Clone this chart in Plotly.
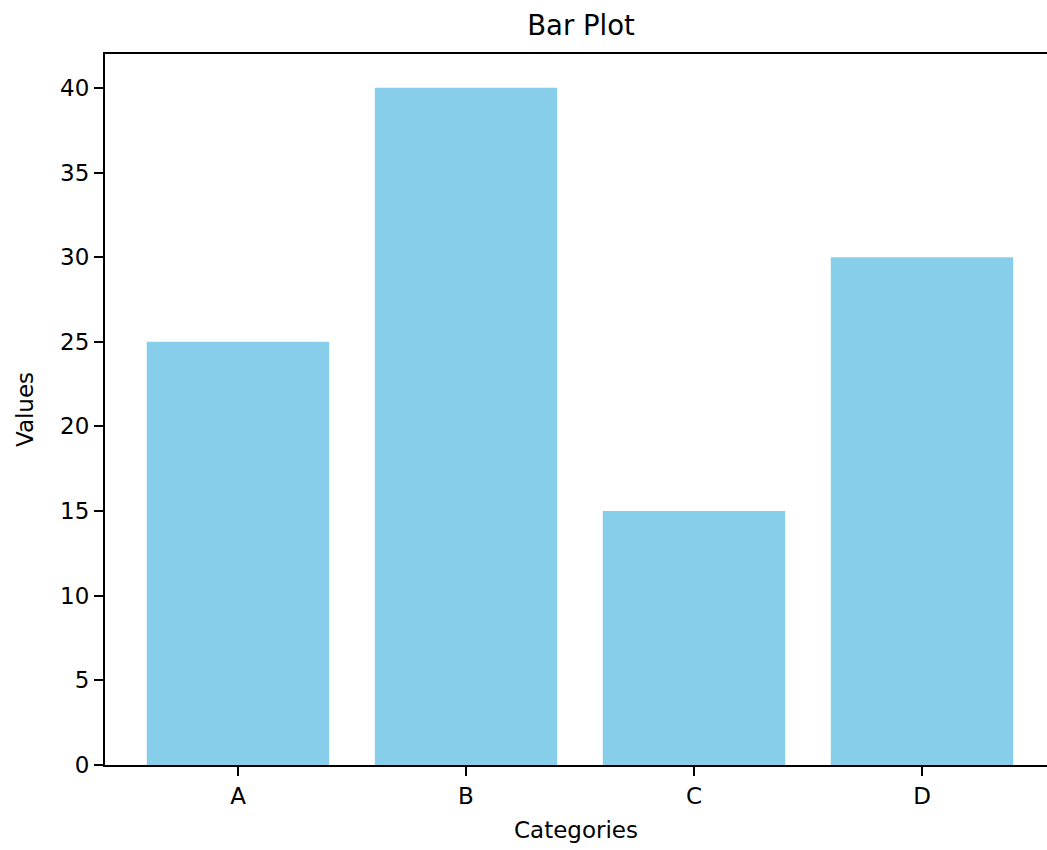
import plotly.graph_objects as go

categories = ["A", "B", "C", "D"]
values = [25, 40, 15, 30]
y_ticks = [0, 5, 10, 15, 20, 25, 30, 35, 40]

FONT = "DejaVu Sans"
W, H = 1047, 850
L, T, B = 105, 54, 85
PX_PER_CAT = 228.0
X0 = -(238 - L) / PX_PER_CAT

fig = go.Figure(go.Bar(
    x=list(range(len(categories))), y=values,
    marker=dict(color="#87CEEB", line=dict(width=0)),
    width=0.8,
))

fig.update_layout(
    width=W, height=H,
    margin=dict(l=L, r=0, t=T, b=B, pad=0),
    plot_bgcolor="white", paper_bgcolor="white",
    font=dict(family=FONT, size=23, color="black"),
    showlegend=False,
    title=dict(text="Bar Plot", font=dict(family=FONT, size=27.5, color="black"),
               xref="container", x=581 / W, xanchor="center",
               yref="container", y=1 - 35 / H, yanchor="bottom"),
    bargap=0.2,
)

fig.update_xaxes(
    range=[X0, X0 + (W - L) / PX_PER_CAT],
    tickmode="array", tickvals=list(range(len(categories))), ticktext=categories,
    showline=True, linecolor="black", linewidth=2, mirror=True,
    ticks="outside", ticklen=9, tickwidth=2, tickcolor="black",
    showgrid=False, zeroline=False,
    tickfont=dict(family=FONT, size=23, color="black"),
    title=dict(text="Categories", font=dict(family=FONT, size=23, color="black"), standoff=14),
)
fig.update_yaxes(
    range=[0, 42],
    tickmode="array", tickvals=y_ticks,
    showline=True, linecolor="black", linewidth=2, mirror=False,
    ticks="outside", ticklen=9, tickwidth=2, tickcolor="black",
    showgrid=False, zeroline=False,
    tickfont=dict(family=FONT, size=23, color="black"),
    title=dict(text="Values", font=dict(family=FONT, size=23, color="black"), standoff=20),
)

fig.write_html(
    "out.html",
    config={"displayModeBar": False},
    post_script="document.body.style.margin='0';document.body.style.overflow='hidden';",
)
